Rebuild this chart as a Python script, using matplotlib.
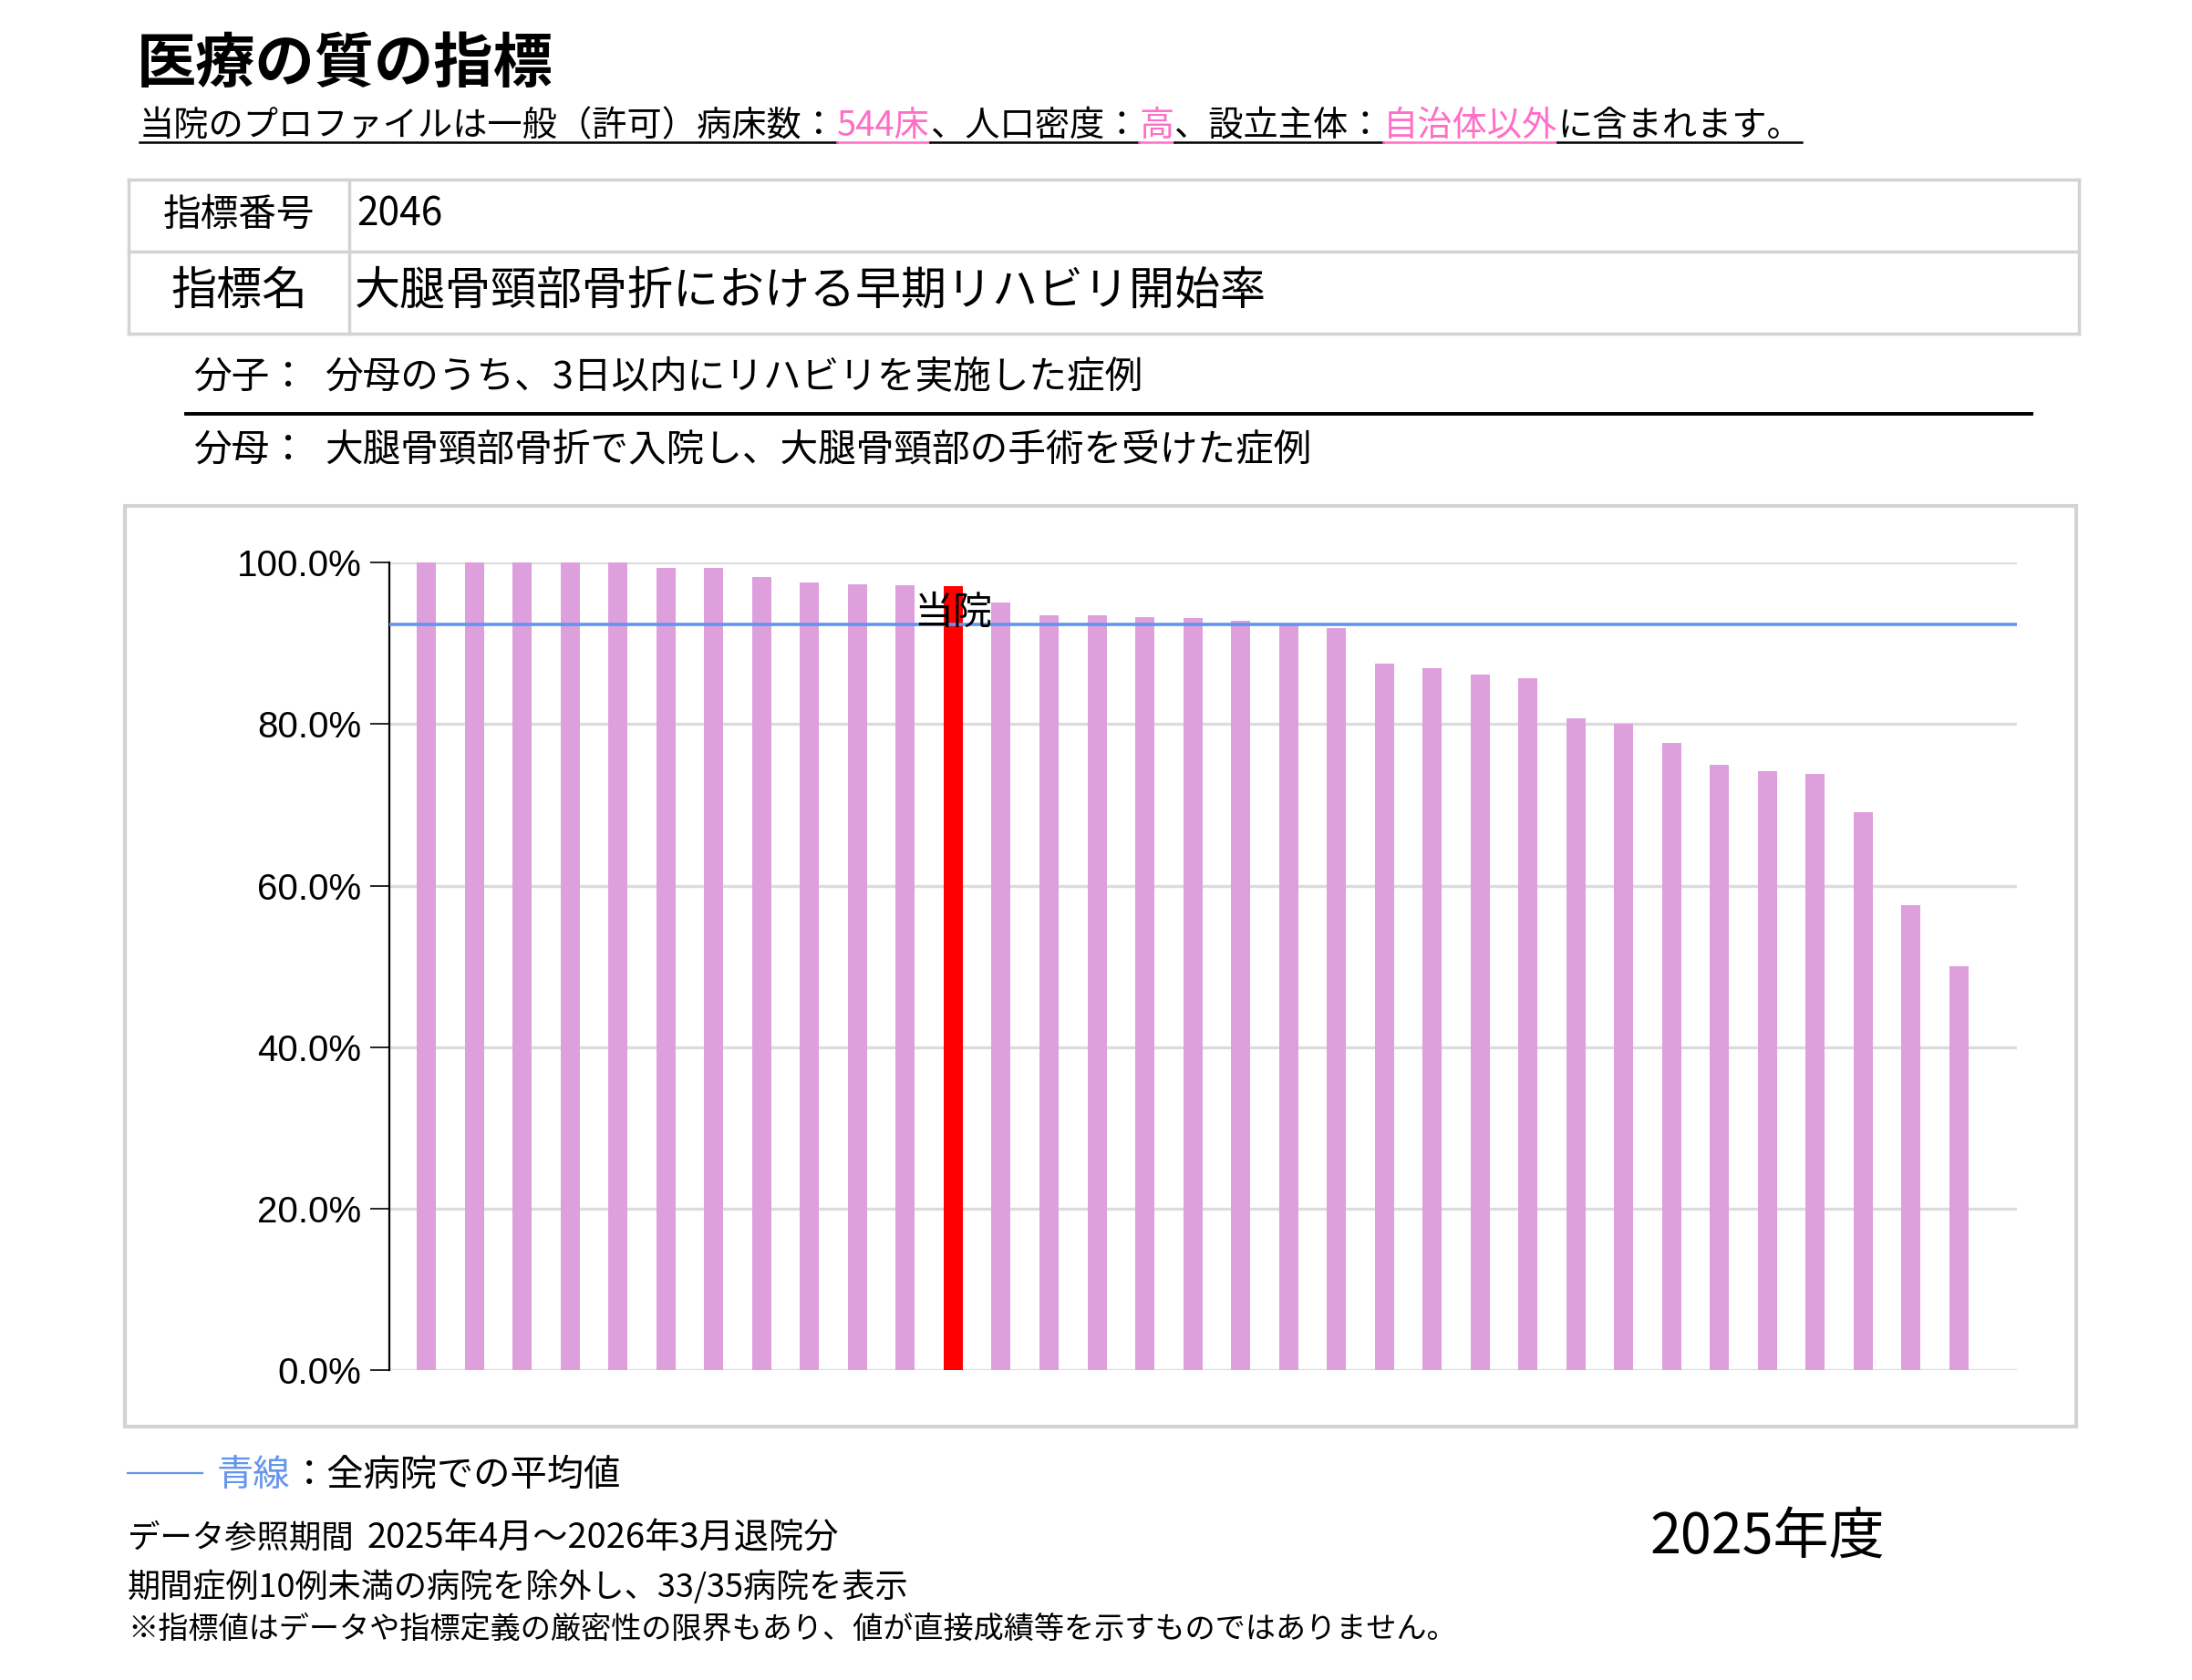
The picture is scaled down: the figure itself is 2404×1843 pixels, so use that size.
import matplotlib
matplotlib.use('Agg')
import matplotlib.pyplot as plt
from matplotlib.lines import Line2D
from matplotlib.patches import Rectangle

plt.rcParams['font.family'] = ['Noto Sans CJK JP', 'DejaVu Sans']

# 指標値（病院別、降順）
rates = [100.0, 100.0, 100.0, 100.0, 100.0, 99.3, 99.3, 98.2, 97.6, 97.3, 97.2,
         97.1, 95.1, 93.5, 93.5, 93.3, 93.1, 92.8, 92.2, 91.9, 87.5, 86.9,
         86.2, 85.7, 80.7, 80.0, 77.7, 75.0, 74.2, 73.8, 69.1, 57.6, 50.0]
own_index = 11          # 当院
average = 92.3          # 全病院平均
y_ticks = [0, 20, 40, 60, 80, 100]
y_tick_labels = ['0.0%', '20.0%', '40.0%', '60.0%', '80.0%', '100.0%']

W, H = 2404, 1843
fig = plt.figure(figsize=(W / 100, H / 100), dpi=100)
renderer = fig.canvas.get_renderer()


def fx(px):
    return px / W


def fy(py):
    return 1 - py / H


def hline(x0, x1, y, color, lw):
    fig.add_artist(Line2D([fx(x0), fx(x1)], [fy(y), fy(y)], color=color, lw=lw))


def vline(x, y0, y1, color, lw):
    fig.add_artist(Line2D([fx(x), fx(x)], [fy(y0), fy(y1)], color=color, lw=lw))


def text_runs(x, y, runs, size, underline_y=None):
    for s, color in runs:
        t = fig.text(fx(x), fy(y), s, color=color, fontsize=size, va='baseline')
        w = t.get_window_extent(renderer).width
        if underline_y is not None:
            hline(x, x + w, underline_y, color, 1.8)
        x += w
    return x


pink = '#ff6ec7'
blue = '#6495ed'
gray = '#d3d3d3'

# タイトル
fig.text(fx(150), fy(71), '医療の質の指標', fontsize=47, fontweight='bold', va='center')
text_runs(153, 149, [('当院のプロファイルは一般（許可）病床数：', 'black'), ('544床', pink),
                     ('、人口密度：', 'black'), ('高', pink), ('、設立主体：', 'black'),
                     ('自治体以外', pink), ('に含まれます。', 'black')], 27.5, underline_y=156)

# 指標表
for y in (197, 276, 366):
    hline(141, 2280, y, gray, 2.5)
for x in (141, 383, 2280):
    vline(x, 197, 366, gray, 2.5)
fig.text(fx(262), fy(236), '指標番号', fontsize=30, ha='center', va='center')
fig.text(fx(391), fy(236), '2046', fontsize=30.5, va='center')
fig.text(fx(262), fy(320), '指標名', fontsize=36, ha='center', va='center')
fig.text(fx(389), fy(320), '大腿骨頸部骨折における早期リハビリ開始率', fontsize=36, va='center')

# 分子・分母
fig.text(fx(212), fy(414), '分子：', fontsize=30, va='center')
fig.text(fx(356), fy(414), '分母のうち、3日以内にリハビリを実施した症例', fontsize=30, va='center')
hline(204, 2228, 454, 'black', 2.8)
fig.text(fx(212), fy(494), '分母：', fontsize=30, va='center')
fig.text(fx(356), fy(494), '大腿骨頸部骨折で入院し、大腿骨頸部の手術を受けた症例', fontsize=30, va='center')

# グラフ枠
fig.add_artist(Rectangle((fx(137), fy(1565)), (2277 - 137) / W, (1565 - 555) / H,
                         fill=False, edgecolor=gray, lw=3, transform=fig.transFigure))

ax = fig.add_axes([fx(426.7), fy(1503), (2212 - 426.7) / W, (1503 - 617.3) / H])
colors = ['red' if i == own_index else '#dda0dd' for i in range(len(rates))]
ax.bar(range(len(rates)), rates, width=0.4, color=colors, zorder=2)
ax.axhline(average, color=blue, lw=2.6, zorder=3)
ax.annotate('当院', xy=(own_index, average), xytext=(0, 9), textcoords='offset points',
            ha='center', va='center', fontsize=31, zorder=4)
ax.set_xlim(-0.78, 33.21)
ax.set_ylim(0, 100)
ax.set_xticks([])
ax.set_yticks(y_ticks)
ax.set_yticklabels(y_tick_labels, fontfamily='Liberation Sans', fontsize=29)
ax.yaxis.grid(True, color='#dcdcdc', lw=2.4, zorder=0)
ax.set_axisbelow(True)
for side in ('top', 'right', 'bottom'):
    ax.spines[side].set_visible(False)
ax.spines['left'].set_linewidth(1.6)
ax.tick_params(axis='y', length=15, width=1.2, pad=7)

# 凡例・注記
hline(140, 222, 1616, blue, 1.6)
text_runs(238, 1630, [('青線', blue), ('：全病院での平均値', 'black')], 29)
fig.text(fx(140), fy(1688), 'データ参照期間', fontsize=25.5, va='center')
fig.text(fx(403), fy(1688), '2025年4月～2026年3月退院分', fontsize=27.5, va='center')
fig.text(fx(140), fy(1741), '期間症例10例未満の病院を除外し、33/35病院を表示', fontsize=26, va='center')
fig.text(fx(140), fy(1787), '※指標値はデータや指標定義の厳密性の限界もあり、値が直接成績等を示すものではありません。',
         fontsize=23.9, va='center')
fig.text(fx(1809), fy(1687), '2025年度', fontsize=44, va='center')

fig.savefig('out.png', dpi=100)
